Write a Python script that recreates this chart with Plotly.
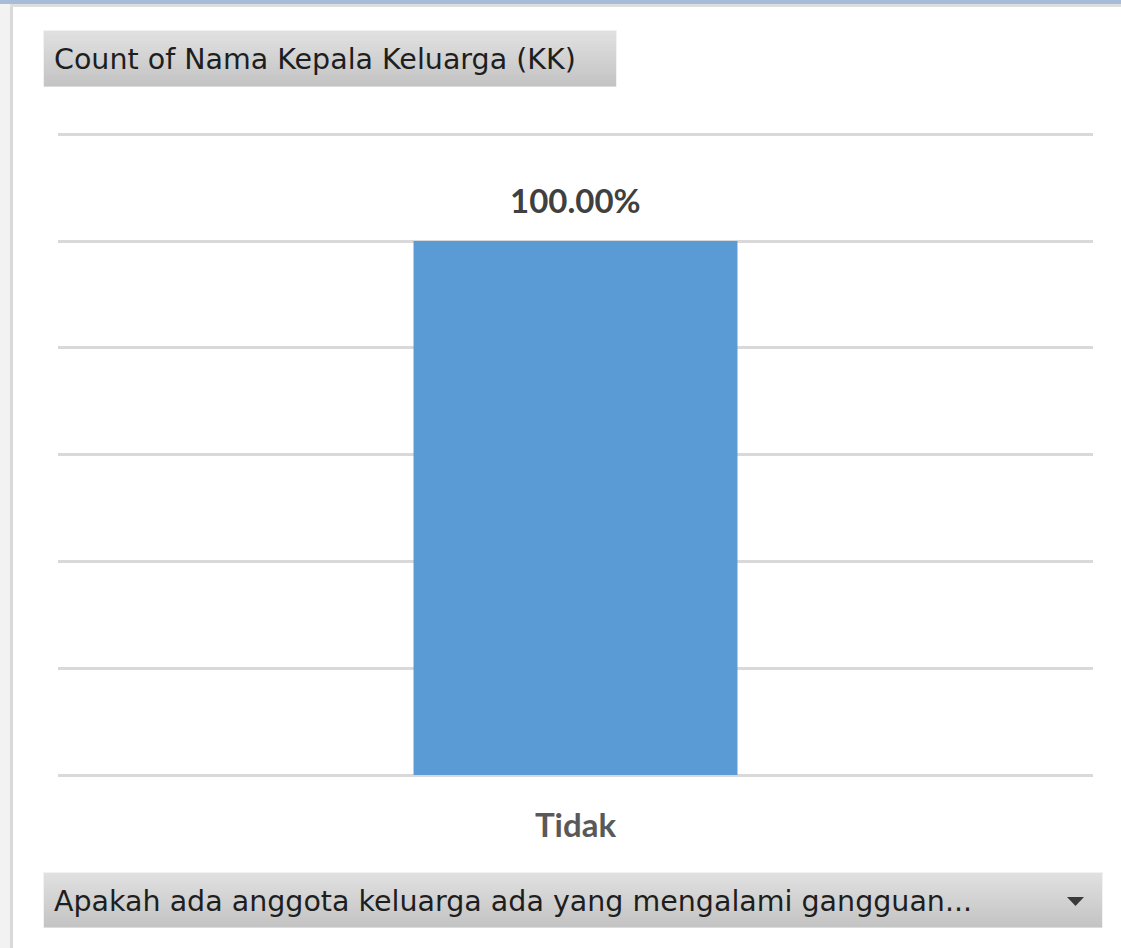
import plotly.graph_objects as go

# Pivot chart data: share of households per answer
categories = ["Tidak"]
shares = [1.0]
value_title = "Count of Nama Kepala Keluarga (KK)"
field_title = "Apakah ada anggota keluarga ada yang mengalami gangguan..."

W, H = 1121, 948
ML, MR, MT, MB = 58, 28, 129, 173
PW, PH = W - ML - MR, H - MT - MB
Y_MAX = 1.21


def px(x):
    return (x - ML) / PW


def py(y):
    return (H - MB - y) / PH


def hexmix(c1, c2, t):
    a = [int(c1[i:i + 2], 16) for i in (1, 3, 5)]
    b = [int(c2[i:i + 2], 16) for i in (1, 3, 5)]
    return "#" + "".join(f"{round(a[k] + (b[k] - a[k]) * t):02x}" for k in range(3))


def rect(x0, y0, x1, y1, color):
    return dict(type="rect", xref="paper", yref="paper", layer="below",
                x0=px(x0), x1=px(x1), y0=py(y1), y1=py(y0),
                line=dict(width=0), fillcolor=color)


def button(x0, y0, x1, y1, steps=18):
    out = [rect(x0, y0, x1, y1, "#f2f2f2")]
    h = (y1 - y0 - 2) / steps
    for i in range(steps):
        out.append(rect(x0 + 1, y0 + 1 + i * h, x1 - 1, y0 + 1 + (i + 1) * h + 0.5,
                        hexmix("#e0e0e0", "#c4c4c4", i / (steps - 1))))
    return out


fig = go.Figure(go.Bar(
    x=categories, y=shares,
    marker=dict(color="#5b9bd5", line=dict(width=0)),
    hoverinfo="skip",
))

shapes = []
# window frame
shapes.append(rect(0, 0, W, 4, "#a6bcd9"))
shapes.append(rect(10, 4, W, 7, "#dedede"))
shapes.append(rect(0, 4, 10, H, "#f2f2f2"))
shapes.append(rect(10, 7, 13, H, "#d9d9d9"))
# field buttons
shapes += button(43, 30, 617, 87)
shapes += button(43, 872, 1103, 928)
# dropdown arrow
shapes.append(dict(type="path", xref="paper", yref="paper",
                   path=f"M {px(1067)},{py(897)} L {px(1084)},{py(897)} L {px(1075.5)},{py(906)} Z",
                   fillcolor="#3a3a3a", line=dict(width=0)))

annotations = [
    dict(xref="paper", yref="paper", x=px(52), y=py(59), xanchor="left", yanchor="middle",
         text=value_title, showarrow=False,
         font=dict(family="DejaVu Sans", size=28.5, color="#1e1e1e")),
    dict(xref="paper", yref="paper", x=px(52), y=py(901), xanchor="left", yanchor="middle",
         text=field_title, showarrow=False,
         font=dict(family="DejaVu Sans", size=28.5, color="#1e1e1e")),
]
for c, v in zip(categories, shares):
    annotations.append(dict(x=c, y=v, xref="x", yref="y", text=f"{v:.2%}",
                            showarrow=False, yanchor="middle", yshift=41,
                            font=dict(family="Lato", size=33, color="#404040", weight="bold")))

fig.update_layout(
    width=W, height=H, autosize=False,
    margin=dict(l=ML, r=MR, t=MT, b=MB),
    paper_bgcolor="white", plot_bgcolor="white",
    bargap=0.687, showlegend=False,
    shapes=shapes, annotations=annotations,
    xaxis=dict(range=[-0.5, 0.5], showgrid=False, zeroline=False, showline=False,
               ticks="outside", ticklen=21, tickcolor="rgba(0,0,0,0)",
               tickfont=dict(family="Lato", size=33, color="#595959", weight="bold"),
               fixedrange=True),
    yaxis=dict(range=[0, Y_MAX], dtick=0.2, showticklabels=False,
               showgrid=True, gridcolor="#d9d9d9", gridwidth=3,
               zeroline=True, zerolinecolor="#d9d9d9", zerolinewidth=3,
               showline=False, fixedrange=True),
)

fig.write_html("out.html", config={"displayModeBar": False})
